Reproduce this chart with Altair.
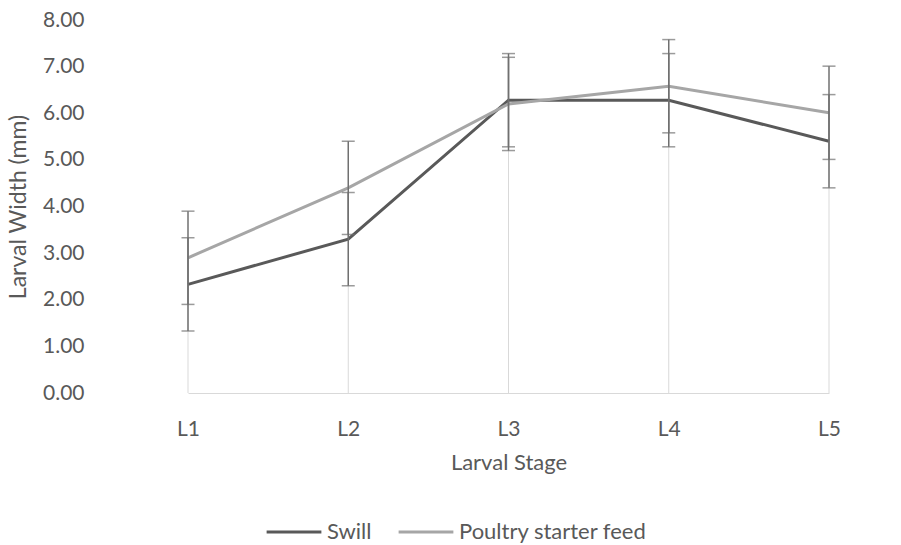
import altair as alt
import pandas as pd

stages = ["L1", "L2", "L3", "L4", "L5"]
series_names = ["Swill", "Poultry starter feed"]
swill = [2.33, 3.30, 6.28, 6.28, 5.40]
poultry = [2.90, 4.40, 6.20, 6.58, 6.01]
swill_err = [1.0, 1.0, 1.0, 1.0, 1.0]
poultry_err = [1.0, 1.0, 1.0, 1.0, 1.0]
y_ticks = [0, 1, 2, 3, 4, 5, 6, 7, 8]

rows = []
for name, vals, errs in [(series_names[0], swill, swill_err), (series_names[1], poultry, poultry_err)]:
    for s, v, e in zip(stages, vals, errs):
        rows.append({"stage": s, "series": name, "value": v, "err": e})
df = pd.DataFrame(rows)

FONT = "Lato"
TXT = "#595959"
FS = 21

x_enc = alt.X("stage:N", sort=stages,
              scale=alt.Scale(type="point", range=[80, 721], domain=stages, padding=0),
              axis=alt.Axis(title="Larval Stage", labelAngle=0, ticks=False,
                            domainColor="#d9d9d9", domainWidth=1,
                            labelPadding=25, titlePadding=13, grid=False))
y_scale = alt.Scale(domain=[0, 8], nice=False, zero=True)

base = alt.Chart(df)

drop = base.transform_aggregate(
    max_val="max(value)", groupby=["stage"]
).mark_rule(color="#d9d9d9", strokeWidth=1).encode(
    x=x_enc,
    y=alt.Y("max_val:Q", scale=y_scale),
    y2=alt.datum(0),
)

lines = base.mark_line(strokeWidth=3).encode(
    x=x_enc,
    y=alt.Y("value:Q", scale=y_scale,
            axis=alt.Axis(title="Larval Width (mm)", values=y_ticks, format=".2f",
                          domain=False, ticks=False, grid=False,
                          labelPadding=24, titlePadding=12, titleFontSize=23)),
    color=alt.Color("series:N", sort=series_names,
                    scale=alt.Scale(domain=series_names, range=["#595959", "#a6a6a6"]),
                    legend=alt.Legend(title=None, orient="none", direction="horizontal",
                                      legendX=157, legendY=483, symbolType="stroke",
                                      symbolSize=3000, symbolStrokeWidth=3,
                                      labelFont=FONT, labelFontSize=22, labelColor=TXT,
                                      labelLimit=400, columnPadding=20, labelOffset=4)),
)

err_calc = base.transform_calculate(
    lo="datum.value - datum.err", hi="datum.value + datum.err"
)

err_rule = err_calc.mark_rule(color="#707070", strokeWidth=1.5).encode(
    x=x_enc, y=alt.Y("lo:Q", scale=y_scale), y2="hi:Q"
)
cap_lo = err_calc.mark_tick(color="#707070", thickness=1.5, size=13, orient="horizontal").encode(
    x=x_enc, y=alt.Y("lo:Q", scale=y_scale)
)
cap_hi = err_calc.mark_tick(color="#707070", thickness=1.5, size=13, orient="horizontal").encode(
    x=x_enc, y=alt.Y("hi:Q", scale=y_scale)
)

chart = alt.layer(drop, lines, err_rule, cap_lo, cap_hi).properties(
    width=793, height=373,
    autosize=alt.AutoSizeParams(type="none"),
    padding={"left": 108, "top": 20, "right": 0, "bottom": 152},
).configure(
    background="white",
    view=alt.ViewConfig(stroke=None),
    axis=alt.AxisConfig(
        labelFont=FONT, labelFontSize=FS, labelColor=TXT,
        titleFont=FONT, titleFontSize=22, titleColor=TXT, titleFontWeight="normal",
    ),
)

chart.save("out.html", embed_options={"renderer": "svg", "actions": False})
